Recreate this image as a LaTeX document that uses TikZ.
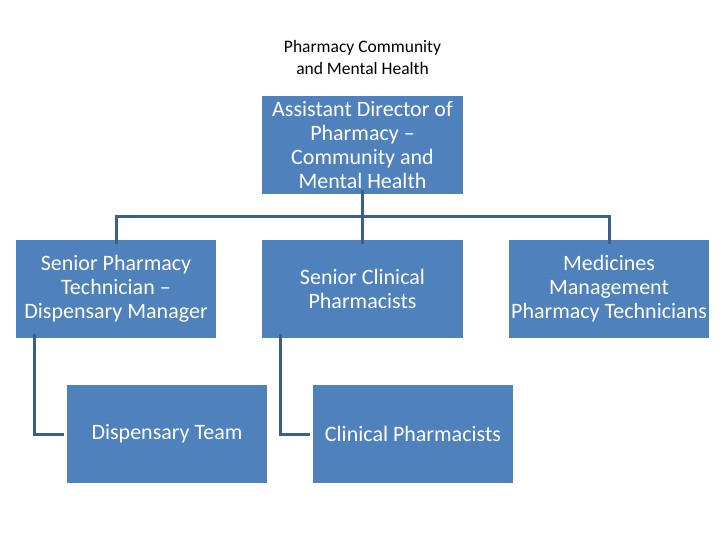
\documentclass[tikz,border=0pt]{standalone}
\usepackage{fontspec}
\setmainfont{Carlito}
\definecolor{boxblue}{HTML}{4F81BD}
\definecolor{linkblue}{HTML}{3E5F85}
\begin{document}
\begin{tikzpicture}[x=1pt,y=-1pt,
  orgbox/.style={fill=boxblue,draw=none,text=white,minimum width=200pt,minimum height=98pt,
    align=center,font=\fontsize{22}{24}\selectfont,inner sep=1pt},
  link/.style={draw=linkblue,line width=3pt}]
\useasboundingbox (0,0) rectangle (720,540);
\node[align=center,font=\fontsize{17.5}{22}\selectfont] (title) at (362.5,57) {Pharmacy Community\\and Mental Health};
\node[orgbox,minimum width=201pt] (ad) at (362.5,145) {Assistant Director of\\Pharmacy --\\Community and\\Mental Health};
\node[orgbox] (spt) at (116,289) {Senior Pharmacy\\Technician --\\Dispensary Manager};
\node[orgbox,minimum width=201pt] (scp) at (362.5,289) {Senior Clinical\\Pharmacists};
\node[orgbox] (mmt) at (609,289) {Medicines\\Management\\Pharmacy Technicians};
\node[orgbox] (dt) at (167,434) {Dispensary Team};
\node[orgbox] (cp) at (413,434) {Clinical Pharmacists};
\coordinate (hub) at (362.5,217);
\draw[link] ([yshift=4pt]ad.south) -- ([yshift=-4pt]scp.north);
\draw[link] ([yshift=-4pt]spt.north) |- (hub) -| ([yshift=-4pt]mmt.north);
\draw[link] ([xshift=-82pt,yshift=4pt]spt.south) |- ([xshift=-3pt]dt.west);
\draw[link] ([xshift=-82pt,yshift=4pt]scp.south) |- ([xshift=-3pt]cp.west);
\end{tikzpicture}
\end{document}
